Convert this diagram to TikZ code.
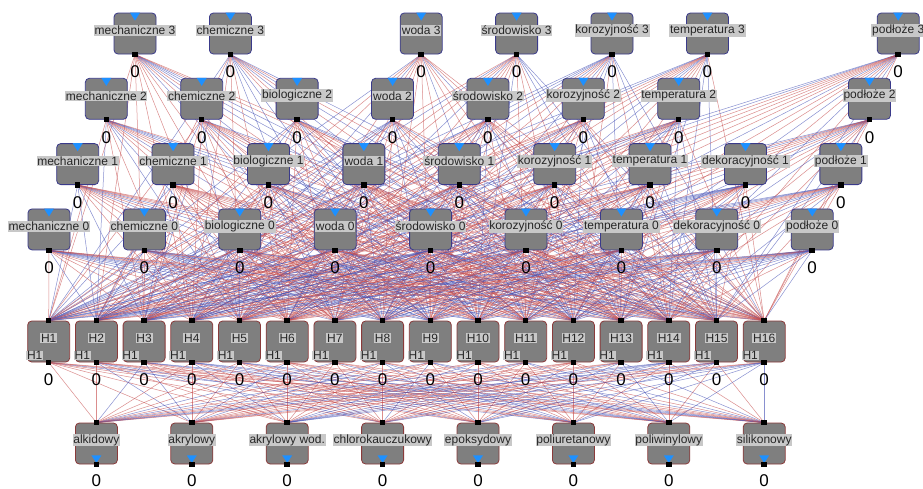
\documentclass[tikz,border=0pt]{standalone}
\usepackage{fontspec}
\setmainfont{Liberation Sans}
\usetikzlibrary{calc}
\definecolor{boxgray}{HTML}{7F7F7F}
\definecolor{lblgray}{HTML}{C8C8C8}
\definecolor{inborder}{HTML}{3A3A8A}
\definecolor{hborder}{HTML}{8A3A3A}
\definecolor{trifill}{HTML}{1E90FF}
\definecolor{lred}{HTML}{C85050}
\definecolor{lblue}{HTML}{4A56B8}
\pgfdeclarelayer{bg}
\pgfdeclarelayer{lines}
\pgfsetlayers{bg,lines,main}
\begin{document}
\begin{tikzpicture}[x=1pt,y=-1pt,
  nbox/.style={fill=boxgray, rounded corners=4pt, minimum width=42pt, minimum height=41pt, inner sep=0pt, line width=0.8pt},
  inbox/.style={nbox, draw=inborder},
  hbox/.style={nbox, draw=hborder},
  lbl/.style={fill=lblgray, inner sep=0.8pt, font=\fontsize{12}{13}\selectfont, text=black!85},
  port/.style={fill=black, minimum size=5.5pt, inner sep=0pt},
  zero/.style={inner sep=0pt, font=\fontsize{17}{17}\selectfont},
  ln1/.style={draw=lred, line width=0.5pt, opacity=0.65},
  ln0/.style={draw=lblue, line width=0.5pt, opacity=0.65}]
\useasboundingbox (0,0) rectangle (923,488);
\begin{pgfonlayer}{bg}\fill[white] (0,0) rectangle (923,488);\end{pgfonlayer}
% input nodes
\foreach \rowi/\sloti/\lab in {
 3/0/mechaniczne 3, 3/1/chemiczne 3, 3/3/woda 3, 3/4/środowisko 3, 3/5/korozyjność 3, 3/6/temperatura 3, 3/8/podłoże 3,
 2/0/mechaniczne 2, 2/1/chemiczne 2, 2/2/biologiczne 2, 2/3/woda 2, 2/4/środowisko 2, 2/5/korozyjność 2, 2/6/temperatura 2, 2/8/podłoże 2,
 1/0/mechaniczne 1, 1/1/chemiczne 1, 1/2/biologiczne 1, 1/3/woda 1, 1/4/środowisko 1, 1/5/korozyjność 1, 1/6/temperatura 1, 1/7/dekoracyjność 1, 1/8/podłoże 1,
 0/0/mechaniczne 0, 0/1/chemiczne 0, 0/2/biologiczne 0, 0/3/woda 0, 0/4/środowisko 0, 0/5/korozyjność 0, 0/6/temperatura 0, 0/7/dekoracyjność 0, 0/8/podłoże 0}{
  \pgfmathsetmacro\nx{49+\rowi*28.67+\sloti*95.4}
  \pgfmathsetmacro\ny{229.4-\rowi*65.3}
  \node[inbox] (in\rowi\sloti) at (\nx,\ny) {};
  \fill[trifill] ([xshift=-5pt]in\rowi\sloti.north) -- ([xshift=5pt]in\rowi\sloti.north) -- ([yshift=-8pt]in\rowi\sloti.north) -- cycle;
  \node[lbl] (in\rowi\sloti-l) at ([yshift=3pt]in\rowi\sloti.center) {\lab};
  \node[port] (in\rowi\sloti-b) at (in\rowi\sloti.south) {};
  \node[zero] (in\rowi\sloti-z) at ([yshift=-17.5pt]in\rowi\sloti.south) {0};
}
% hidden nodes
\foreach \i in {1,...,16}{
  \pgfmathsetmacro\nx{48.7+(\i-1)*47.7}
  \node[hbox] (h\i) at (\nx,341.5) {};
  \node[lbl] (h\i-l) at ([yshift=3.5pt]h\i.center) {H\i};
  \node[lbl] (h\i-s) at ([xshift=-14pt,yshift=-14pt]h\i.center) {H1};
  \node[port] (h\i-t) at (h\i.north) {};
  \node[port] (h\i-b) at (h\i.south) {};
  \node[zero] (h\i-z) at ([yshift=-17pt]h\i.south) {0};
}
% output nodes
\foreach \k/\lab in {1/alkidowy, 2/akrylowy, 3/akrylowy wod., 4/chlorokauczukowy, 5/epoksydowy, 6/poliuretanowy, 7/poliwinylowy, 8/silikonowy}{
  \pgfmathsetmacro\nx{48.7+(2*\k-1)*47.7}
  \node[hbox] (o\k) at (\nx,443.5) {};
  \node[lbl] (o\k-l) at ([yshift=3.5pt]o\k.center) {\lab};
  \fill[trifill] ([xshift=-5pt,yshift=9pt]o\k.south) -- ([xshift=5pt,yshift=9pt]o\k.south) -- ([yshift=1.5pt]o\k.south) -- cycle;
  \node[port] (o\k-b) at (o\k.south) {};
  \node[port] (o\k-t) at (o\k.north) {};
  \node[zero] (o\k-z) at ([yshift=-16pt]o\k.south) {0};
}
% connectors
\begin{pgfonlayer}{lines}
\pgfmathsetseed{42}
\foreach \a in {in30,in31,in33,in34,in35,in36,in38,in20,in21,in22,in23,in24,in25,in26,in28,in10,in11,in12,in13,in14,in15,in16,in17,in18,in00,in01,in02,in03,in04,in05,in06,in07,in08}{
  \foreach \i in {1,...,16}{
    \pgfmathtruncatemacro\rc{random(0,9)<6}
    \draw[ln\rc] (\a-b.center) -- (h\i-t.center);
  }
}
\foreach \i in {1,...,16}{
  \foreach \k in {1,...,8}{
    \pgfmathtruncatemacro\rc{random(0,9)<6}
    \draw[ln\rc] (h\i-b.center) -- (o\k-t.center);
  }
}
\end{pgfonlayer}
\end{tikzpicture}
\end{document}
